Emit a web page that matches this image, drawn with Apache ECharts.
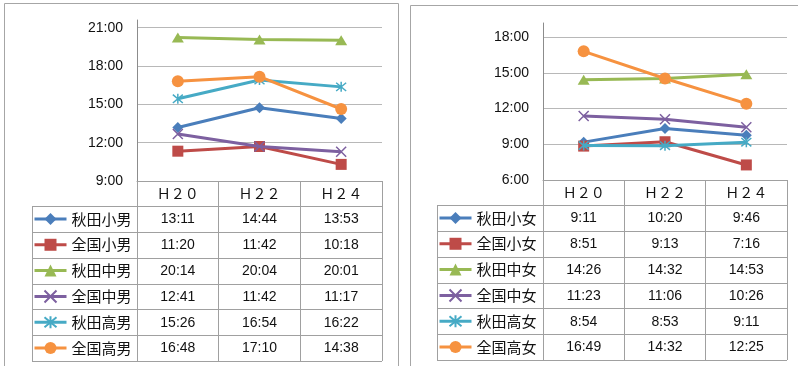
<!DOCTYPE html>
<html>
<head>
<meta charset="utf-8">
<script src="https://cdn.jsdelivr.net/npm/echarts@6/dist/echarts.min.js"></script>
<style>
html, body { margin: 0; padding: 0; background: #fff; }
#main { width: 798px; height: 366px; }
</style>
</head>
<body>
<div id="main"></div>
<script>
var years = ['Ｈ２０', 'Ｈ２２', 'Ｈ２４'];
var yTicks = [6, 9, 12, 15, 18, 21];

// boys (left panel)
var boysNames = ['秋田小男', '全国小男', '秋田中男', '全国中男', '秋田高男', '全国高男'];
var akitaShoM = ['13:11', '14:44', '13:53'];
var zenkokuShoM = ['11:20', '11:42', '10:18'];
var akitaChuM = ['20:14', '20:04', '20:01'];
var zenkokuChuM = ['12:41', '11:42', '11:17'];
var akitaKoM = ['15:26', '16:54', '16:22'];
var zenkokuKoM = ['16:48', '17:10', '14:38'];

// girls (right panel)
var girlsNames = ['秋田小女', '全国小女', '秋田中女', '全国中女', '秋田高女', '全国高女'];
var akitaShoF = ['9:11', '10:20', '9:46'];
var zenkokuShoF = ['8:51', '9:13', '7:16'];
var akitaChuF = ['14:26', '14:32', '14:53'];
var zenkokuChuF = ['11:23', '11:06', '10:26'];
var akitaKoF = ['8:54', '8:53', '9:11'];
var zenkokuKoF = ['16:49', '14:32', '12:25'];

var boysRows = [akitaShoM, zenkokuShoM, akitaChuM, zenkokuChuM, akitaKoM, zenkokuKoM];
var girlsRows = [akitaShoF, zenkokuShoF, akitaChuF, zenkokuChuF, akitaKoF, zenkokuKoF];

var colors = ['#4a7ebb', '#be4b48', '#98b954', '#7d60a0', '#46aac5', '#f69240'];
var xPath = 'path://M0,0L10,10M10,0L0,10';
var starPath = 'path://M0,0L10,10M10,0L0,10M5,-1L5,11';
var symbols = ['diamond', 'rect', 'triangle', xPath, starPath, 'circle'];
var symbolSizes = [11, 11, [12, 10], 10, 10, 12];

function toHours(s) {
    var p = s.split(':');
    return +p[0] + (+p[1]) / 60;
}

// layout of the two panels
var panels = [
    { gridLeft: 137, gridTop: 20, gridW: 245, gridBottom: 181, tableLeft: 32, rowH: 25.83, min: 9, max: 21.6, names: boysNames, rows: boysRows },
    { gridLeft: 543, gridTop: 23, gridW: 244, gridBottom: 180, tableLeft: 437, rowH: 25.83, min: 6, max: 19.2, names: girlsNames, rows: girlsRows }
];

var grids = [], xAxes = [], yAxes = [], series = [], legends = [];
var graphics = [
    { type: 'rect', shape: { x: 4.5, y: 3.5, width: 394, height: 400 }, style: { fill: null, stroke: '#a6a6a6', lineWidth: 1 }, z: -1 },
    { type: 'rect', shape: { x: 410.5, y: 5.5, width: 400, height: 400 }, style: { fill: null, stroke: '#a6a6a6', lineWidth: 1 }, z: -1 }
];

panels.forEach(function (p, pi) {
    grids.push({ left: p.gridLeft, top: p.gridTop, width: p.gridW, height: p.gridBottom - p.gridTop });
    xAxes.push({
        type: 'category', gridIndex: pi, data: years, boundaryGap: true,
        axisLine: { lineStyle: { color: '#a0a0a0', width: 1 } },
        axisTick: { show: true, length: 180, lineStyle: { color: '#a0a0a0' } },
        axisLabel: { margin: 6, fontSize: 14, color: '#111', fontFamily: 'Noto Sans CJK JP' }
    });
    yAxes.push({
        type: 'value', gridIndex: pi, min: p.min, max: p.max, interval: 3,
        axisLine: { show: true, lineStyle: { color: '#8c8c8c' } },
        axisTick: { show: false },
        splitLine: { show: true, showMaxLine: false, lineStyle: { color: '#b8b8b8' } },
        axisLabel: {
            margin: 14, fontSize: 14, color: '#111', fontFamily: 'Liberation Sans', showMaxLabel: false,
            formatter: function (v) { return yTicks.indexOf(v) >= 0 ? v + ':00' : ''; }
        }
    });
    p.names.forEach(function (name, i) {
        var star = i === 3 || i === 4;
        series.push({
            name: name, type: 'line', xAxisIndex: pi, yAxisIndex: pi,
            data: p.rows[i].map(toHours),
            symbol: symbols[i], symbolSize: symbolSizes[i],
            lineStyle: { color: colors[i], width: 3 },
            itemStyle: { color: colors[i], borderColor: colors[i], borderWidth: star ? 1.5 : 0 },
            emphasis: { disabled: true },
            z: 2 + i
        });
    });
    var tableTop = p.gridBottom + p.rowH - 0.8;
    legends.push({
        data: p.names, orient: 'vertical', left: p.tableLeft + 1, top: tableTop + (p.rowH - 16) / 2,
        padding: 0, itemGap: p.rowH - 16, itemWidth: 32, itemHeight: 15, selectedMode: false,
        lineStyle: { width: 3 },
        textStyle: { fontSize: 15, lineHeight: 16, color: '#111', fontFamily: 'Noto Sans CJK JP' }
    });
    var right = p.gridLeft + p.gridW;
    for (var k = 0; k <= 6; k++) {
        var y = Math.round(tableTop + k * p.rowH) + 0.5;
        graphics.push({ type: 'line', shape: { x1: p.tableLeft, y1: y, x2: right, y2: y }, style: { stroke: '#a0a0a0', lineWidth: 1 } });
    }
    graphics.push({ type: 'line', shape: { x1: p.tableLeft + 0.5, y1: Math.round(tableTop) + 0.5, x2: p.tableLeft + 0.5, y2: Math.round(tableTop + 6 * p.rowH) + 0.5 }, style: { stroke: '#a0a0a0', lineWidth: 1 } });
    var colW = p.gridW / years.length;
    p.rows.forEach(function (row, r) {
        row.forEach(function (val, c) {
            graphics.push({
                type: 'text',
                style: {
                    text: val, x: p.gridLeft + (c + 0.5) * colW, y: tableTop + (r + 0.5) * p.rowH + 0.5,
                    align: 'center', verticalAlign: 'middle', textAlign: 'center', textVerticalAlign: 'middle',
                    font: '14px "Liberation Sans"', fill: '#111'
                }
            });
        });
    });
});

var chart = echarts.init(document.getElementById('main'));
chart.setOption({
    backgroundColor: '#fff',
    animation: false,
    grid: grids,
    xAxis: xAxes,
    yAxis: yAxes,
    legend: legends,
    series: series,
    graphic: graphics
});
</script>
</body>
</html>
